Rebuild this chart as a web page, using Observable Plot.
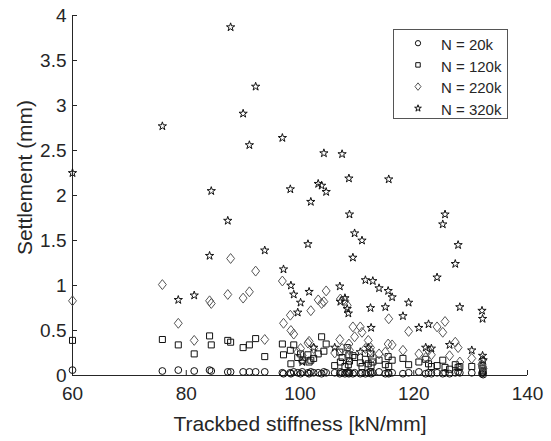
<!DOCTYPE html>
<html><head><meta charset="utf-8">
<script src="https://cdn.jsdelivr.net/npm/d3@7"></script>
<script src="https://cdn.jsdelivr.net/npm/@observablehq/plot@0.6"></script>
<style>
body{margin:0;background:#fff;}
#chart{position:relative;width:551px;height:441px;font-family:"Liberation Sans",Arial,sans-serif;}
#chart svg [aria-label="x-axis label"]{font-size:21px;}
#legend{position:absolute;left:393px;top:29px;width:115px;height:90px;border:1px solid #555;background:#fff;box-sizing:border-box;}
#legend svg{display:block;}
</style></head><body><div id="chart"></div>
<script>
// Trackbed stiffness [kN/mm] of each section (shared by all four series)
const stiffness = [60.0,75.8,78.6,81.4,84.1,84.4,87.3,87.8,90.0,91.1,92.2,93.8,96.9,97.1,98.3,98.4,98.9,99.6,100.1,100.4,
  101.4,101.6,101.9,102.4,103.2,103.8,104.2,104.6,106.1,107.0,107.1,107.4,107.9,108.3,108.5,108.6,108.7,109.3,109.6,110.6,
  110.9,111.5,112.0,112.4,112.5,112.8,113.9,115.0,115.5,115.6,116.2,118.1,119.1,120.9,122.1,122.6,123.1,124.1,125.1,125.5,
  126.3,127.3,127.8,128.1,130.2,132.0,132.1,132.1,132.2];
// Settlement (mm) after N cycles
const settle20k = [0.06,0.05,0.06,0.05,0.06,0.05,0.04,0.04,0.04,0.04,0.04,0.04,0.03,0.02,0.03,0.02,0.04,0.03,0.02,0.04,
  0.03,0.02,0.04,0.03,0.03,0.02,0.04,0.03,0.03,0.02,0.04,0.03,0.02,0.03,0.04,0.02,0.03,0.02,0.03,0.02,
  0.03,0.02,0.03,0.04,0.02,0.03,0.04,0.02,0.03,0.02,0.03,0.02,0.03,0.04,0.02,0.03,0.02,0.03,0.02,0.03,
  0.02,0.03,0.04,0.03,0.03,0.02,0.03,0.04,0.01];
const settle120k = [0.39,0.40,0.34,0.24,0.44,0.34,0.39,0.37,0.31,0.34,0.41,0.21,0.35,0.23,0.28,0.13,0.34,0.20,0.24,0.17,
  0.23,0.15,0.17,0.19,0.24,0.43,0.27,0.35,0.11,0.26,0.15,0.20,0.10,0.31,0.12,0.23,0.16,0.22,0.20,0.14,
  0.10,0.18,0.13,0.24,0.11,0.15,0.17,0.12,0.21,0.10,0.17,0.19,0.12,0.15,0.18,0.13,0.10,0.11,0.17,0.09,
  0.07,0.12,0.09,0.10,0.10,0.11,0.08,0.06,0.05];
const settle220k = [0.83,1.01,0.58,0.39,0.83,0.80,0.90,1.30,0.86,0.93,1.16,0.40,1.05,0.58,0.67,0.50,0.46,0.26,0.30,0.22,
  0.36,0.38,0.72,0.30,0.84,0.80,0.82,0.94,0.25,0.40,0.85,0.30,0.83,0.78,0.22,0.35,0.28,0.54,0.43,0.54,
  0.48,0.30,0.39,0.31,0.26,0.20,0.24,0.26,0.35,0.63,0.34,0.28,0.49,0.24,0.20,0.28,0.23,0.54,0.48,0.60,
  0.22,0.37,0.31,0.15,0.19,0.12,0.17,0.10,0.08];
const settle320k = [2.25,2.77,0.84,0.89,1.33,2.05,1.72,3.87,2.91,2.56,3.21,1.39,2.64,1.18,2.07,1.00,0.90,0.70,0.81,0.15,
  1.46,0.93,1.93,0.31,2.13,2.11,2.47,2.04,0.31,0.99,0.82,2.46,0.86,0.74,0.69,2.19,1.79,1.31,1.58,0.26,
  1.50,1.06,0.31,0.75,0.53,1.05,0.97,0.76,0.94,2.18,0.87,0.66,0.81,0.53,0.31,0.57,0.30,1.09,1.68,1.79,
  0.34,1.24,1.45,0.76,0.28,0.72,0.63,0.22,0.17];
const seriesNames = ["N = 20k","N = 120k","N = 220k","N = 320k"];
const xDomain = [60,140];
const yDomain = [0,4];
const xTicks = [60,80,100,120,140];
const yTicks = [0,0.5,1,1.5,2,2.5,3,3.5,4];
const yTickLabels = ["0","0.5","1","1.5","2","2.5","3","3.5","4"];
const xLabel = "Trackbed stiffness [kN/mm]";
const yLabel = "Settlement (mm)";

const diamondTall = {draw(ctx, size){const s=Math.sqrt(size);const h=s*0.8,w=s*0.64;
  ctx.moveTo(0,-h);ctx.lineTo(w,0);ctx.lineTo(0,h);ctx.lineTo(-w,0);ctx.closePath();}};
const allSeries = [settle20k, settle120k, settle220k, settle320k];
const symbols = ["circle","square",diamondTall,"star"];
const radii = [3.4,3.4,3.5,2.6];
const strokes = ["#111","#111","#555","#111"];
const idx = stiffness.map((_, i) => i);

const dotMarks = allSeries.map((ys, k) => Plot.dot(idx, {
  x: i => stiffness[i], y: i => ys[i], symbol: symbols[k], r: radii[k],
  fill: "none", stroke: strokes[k], strokeWidth: 1
}));

const chart = Plot.plot({
  width: 551, height: 441,
  marginLeft: 72, marginRight: 24, marginTop: 15, marginBottom: 66,
  style: {fontFamily: "'Liberation Sans', Arial, sans-serif", fontSize: "19px", color: "#262626", background: "white"},
  x: {domain: xDomain},
  y: {domain: yDomain},
  marks: [
    Plot.ruleX([xDomain[0]], {stroke: "#262626"}),
    Plot.ruleY([yDomain[0]], {stroke: "#262626"}),
    Plot.axisX({ticks: xTicks, tickSize: -5, tickPadding: 16, tickFormat: d => String(d), stroke: "#262626", fill: "#262626",
      label: xLabel, labelAnchor: "center", labelOffset: 55, labelArrow: "none"}),
    Plot.axisY({ticks: yTicks, tickSize: -5, tickPadding: 11, tickFormat: (d, i) => yTickLabels[i], stroke: "#262626", fill: "#262626",
      label: null}),
    Plot.text([yLabel], {text: d => d, frameAnchor: "left", rotate: -90, dx: -47, dy: -18,
      fontSize: 21, lineAnchor: "middle", textAnchor: "middle", fill: "#262626"}),
    ...dotMarks
  ]
});
document.getElementById("chart").appendChild(chart);

// legend
const legend = d3.select("#chart").append("div").attr("id", "legend");
const lsvg = legend.append("svg").attr("width", 113).attr("height", 88);
const legendSymbols = [d3.symbolCircle, d3.symbolSquare, diamondTall, d3.symbolStar];
const legendSizes = [22, 20, 22, 14];
seriesNames.forEach((name, i) => {
  const cy = 14.7 + i * 21.7;
  lsvg.append("path").attr("d", d3.symbol(legendSymbols[i], legendSizes[i])())
    .attr("transform", `translate(24,${cy - 1.5})`).attr("fill", "none").attr("stroke", strokes[i]).attr("stroke-width", 1);
  lsvg.append("text").attr("x", 47).attr("y", cy).attr("dy", "0.35em")
    .attr("font-size", 15).attr("fill", "#262626").attr("font-family", "'Liberation Sans', Arial, sans-serif").text(name);
});
</script></body></html>
